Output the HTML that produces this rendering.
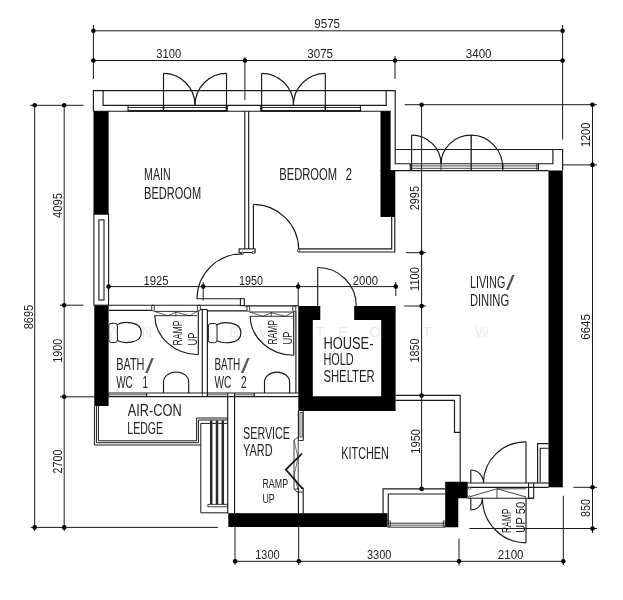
<!DOCTYPE html>
<html><head><meta charset="utf-8"><title>Floor plan</title>
<style>
html,body{margin:0;padding:0;background:#fff;}
svg{display:block;font-family:"Liberation Sans",sans-serif;will-change:transform;}
</style></head><body>
<svg width="623" height="600" viewBox="0 0 623 600" stroke-linecap="butt">
<rect width="623" height="600" fill="#fff"/>
<text x="114" y="336.5" font-size="15" text-anchor="middle" fill="#eaeaea">Λ</text>
<text x="147" y="336.5" font-size="15" text-anchor="middle" fill="#eaeaea">N</text>
<text x="234" y="336.5" font-size="15" text-anchor="middle" fill="#eaeaea">E</text>
<text x="266" y="336.5" font-size="15" text-anchor="middle" fill="#eaeaea">W</text>
<text x="320" y="336.5" font-size="15" text-anchor="middle" fill="#eaeaea">T</text>
<text x="343" y="336.5" font-size="15" text-anchor="middle" fill="#eaeaea">E</text>
<text x="375" y="336.5" font-size="15" text-anchor="middle" fill="#eaeaea">O</text>
<text x="427" y="336.5" font-size="15" text-anchor="middle" fill="#eaeaea">T</text>
<text x="482" y="336.5" font-size="15" text-anchor="middle" fill="#eaeaea">W</text>
<line x1="93.4" y1="30.8" x2="562.6" y2="30.8" stroke="#1a1a1a" stroke-width="1.0"/>
<line x1="93.4" y1="60.5" x2="562.6" y2="60.5" stroke="#1a1a1a" stroke-width="1.0"/>
<line x1="93.4" y1="25" x2="93.4" y2="79" stroke="#1a1a1a" stroke-width="1.0"/>
<line x1="244.9" y1="57" x2="244.9" y2="100" stroke="#1a1a1a" stroke-width="1.0"/>
<line x1="395" y1="56" x2="395" y2="79" stroke="#1a1a1a" stroke-width="1.0"/>
<line x1="562.6" y1="25" x2="562.6" y2="139.4" stroke="#1a1a1a" stroke-width="1.0"/>
<circle cx="93.4" cy="30.8" r="2.3" fill="#000"/>
<circle cx="562.6" cy="30.8" r="2.3" fill="#000"/>
<circle cx="93.4" cy="60.5" r="2.3" fill="#000"/>
<circle cx="244.9" cy="60.5" r="2.3" fill="#000"/>
<circle cx="395" cy="60.5" r="2.3" fill="#000"/>
<circle cx="562.6" cy="60.5" r="2.3" fill="#000"/>
<text x="314.3" y="27.7" font-size="13" word-spacing="0" textLength="25.7" lengthAdjust="spacingAndGlyphs" fill="#222">9575</text>
<text x="156.3" y="58.3" font-size="13" word-spacing="0" textLength="24.9" lengthAdjust="spacingAndGlyphs" fill="#222">3100</text>
<text x="307.3" y="58.3" font-size="13" word-spacing="0" textLength="25.7" lengthAdjust="spacingAndGlyphs" fill="#222">3075</text>
<text x="465.8" y="58.3" font-size="13" word-spacing="0" textLength="25.7" lengthAdjust="spacingAndGlyphs" fill="#222">3400</text>
<line x1="34.7" y1="105.3" x2="34.7" y2="531" stroke="#1a1a1a" stroke-width="1.0"/>
<line x1="64.2" y1="105.3" x2="64.2" y2="531" stroke="#1a1a1a" stroke-width="1.0"/>
<line x1="30" y1="105.3" x2="83.6" y2="105.3" stroke="#1a1a1a" stroke-width="1.0"/>
<line x1="60" y1="305.2" x2="83.5" y2="305.2" stroke="#1a1a1a" stroke-width="1.0"/>
<line x1="60" y1="396.8" x2="94.5" y2="396.8" stroke="#1a1a1a" stroke-width="1.0"/>
<line x1="30.8" y1="527.4" x2="218" y2="527.4" stroke="#1a1a1a" stroke-width="1.0"/>
<circle cx="34.7" cy="105.3" r="2.3" fill="#000"/>
<circle cx="64.2" cy="105.3" r="2.3" fill="#000"/>
<circle cx="64.2" cy="305.2" r="2.3" fill="#000"/>
<circle cx="64.2" cy="396.8" r="2.3" fill="#000"/>
<circle cx="34.7" cy="527.4" r="2.3" fill="#000"/>
<circle cx="64.2" cy="527.4" r="2.3" fill="#000"/>
<text transform="translate(61.6,218) rotate(-90)" font-size="13" textLength="25" lengthAdjust="spacingAndGlyphs" fill="#222">4095</text>
<text transform="translate(32.9,329.3) rotate(-90)" font-size="13" textLength="24.4" lengthAdjust="spacingAndGlyphs" fill="#222">8695</text>
<text transform="translate(62,362.7) rotate(-90)" font-size="13" textLength="24.1" lengthAdjust="spacingAndGlyphs" fill="#222">1900</text>
<text transform="translate(62,473.5) rotate(-90)" font-size="13" textLength="23.9" lengthAdjust="spacingAndGlyphs" fill="#222">2700</text>
<line x1="108.6" y1="286.6" x2="396.1" y2="286.6" stroke="#1a1a1a" stroke-width="1.0"/>
<line x1="203.2" y1="282" x2="203.2" y2="300.5" stroke="#1a1a1a" stroke-width="1.0"/>
<line x1="298.2" y1="282" x2="298.2" y2="306" stroke="#1a1a1a" stroke-width="1.0"/>
<line x1="395.8" y1="282" x2="395.8" y2="296" stroke="#1a1a1a" stroke-width="1.0"/>
<circle cx="108.6" cy="286.6" r="2.3" fill="#000"/>
<circle cx="203.2" cy="286.6" r="2.3" fill="#000"/>
<circle cx="298.2" cy="286.6" r="2.3" fill="#000"/>
<circle cx="395.8" cy="286.6" r="2.3" fill="#000"/>
<text x="143.4" y="284.8" font-size="13" word-spacing="0" textLength="25.1" lengthAdjust="spacingAndGlyphs" fill="#222">1925</text>
<text x="239.1" y="284.8" font-size="13" word-spacing="0" textLength="23.9" lengthAdjust="spacingAndGlyphs" fill="#222">1950</text>
<text x="352.8" y="284.8" font-size="13" word-spacing="0" textLength="25.2" lengthAdjust="spacingAndGlyphs" fill="#222">2000</text>
<line x1="421.6" y1="103.5" x2="421.6" y2="489" stroke="#1a1a1a" stroke-width="1.0"/>
<line x1="404.7" y1="104.7" x2="597" y2="104.7" stroke="#1a1a1a" stroke-width="1.0"/>
<line x1="405.9" y1="252.7" x2="426" y2="252.7" stroke="#1a1a1a" stroke-width="1.0"/>
<line x1="404.3" y1="306" x2="426" y2="306" stroke="#1a1a1a" stroke-width="1.0"/>
<circle cx="421.6" cy="104.7" r="2.3" fill="#000"/>
<circle cx="421.6" cy="252.7" r="2.3" fill="#000"/>
<circle cx="421.6" cy="306" r="2.3" fill="#000"/>
<circle cx="421.6" cy="395.5" r="2.3" fill="#000"/>
<circle cx="421.6" cy="488.9" r="2.3" fill="#000"/>
<text transform="translate(418.7,210.3) rotate(-90)" font-size="13" textLength="24.3" lengthAdjust="spacingAndGlyphs" fill="#222">2995</text>
<text transform="translate(418.5,291) rotate(-90)" font-size="13" textLength="24" lengthAdjust="spacingAndGlyphs" fill="#222">1100</text>
<text transform="translate(418.5,362.5) rotate(-90)" font-size="13" textLength="23.9" lengthAdjust="spacingAndGlyphs" fill="#222">1850</text>
<text transform="translate(419.5,453.7) rotate(-90)" font-size="13" textLength="24.7" lengthAdjust="spacingAndGlyphs" fill="#222">1950</text>
<line x1="592.5" y1="102.5" x2="592.5" y2="533" stroke="#1a1a1a" stroke-width="1.0"/>
<line x1="562.6" y1="164.9" x2="597" y2="164.9" stroke="#1a1a1a" stroke-width="1.0"/>
<line x1="573.5" y1="487.3" x2="597" y2="487.3" stroke="#1a1a1a" stroke-width="1.0"/>
<line x1="469.5" y1="528.5" x2="597" y2="528.5" stroke="#1a1a1a" stroke-width="1.0"/>
<circle cx="592.5" cy="104.7" r="2.3" fill="#000"/>
<circle cx="592.5" cy="164.9" r="2.3" fill="#000"/>
<circle cx="592.5" cy="487.3" r="2.3" fill="#000"/>
<circle cx="592.5" cy="528.5" r="2.3" fill="#000"/>
<text transform="translate(590,147.1) rotate(-90)" font-size="13" textLength="24.4" lengthAdjust="spacingAndGlyphs" fill="#222">1200</text>
<text transform="translate(589.7,339.7) rotate(-90)" font-size="13" textLength="25.5" lengthAdjust="spacingAndGlyphs" fill="#222">6645</text>
<text transform="translate(590,517.1) rotate(-90)" font-size="13" textLength="18.0" lengthAdjust="spacingAndGlyphs" fill="#222">850</text>
<line x1="235.2" y1="561.3" x2="563.3" y2="561.3" stroke="#1a1a1a" stroke-width="1.0"/>
<line x1="235" y1="527" x2="235" y2="565" stroke="#1a1a1a" stroke-width="1.0"/>
<line x1="298.7" y1="527" x2="298.7" y2="565" stroke="#1a1a1a" stroke-width="1.0"/>
<line x1="459" y1="538.5" x2="459" y2="565.5" stroke="#1a1a1a" stroke-width="1.0"/>
<line x1="563.3" y1="495.8" x2="563.3" y2="565" stroke="#1a1a1a" stroke-width="1.0"/>
<circle cx="235.2" cy="561.3" r="2.3" fill="#000"/>
<circle cx="298.8" cy="561.3" r="2.3" fill="#000"/>
<circle cx="459" cy="561.3" r="2.3" fill="#000"/>
<circle cx="563.3" cy="561.3" r="2.3" fill="#000"/>
<text x="255.2" y="559" font-size="13" word-spacing="0" textLength="24.4" lengthAdjust="spacingAndGlyphs" fill="#222">1300</text>
<text x="367" y="559" font-size="13" word-spacing="0" textLength="24.4" lengthAdjust="spacingAndGlyphs" fill="#222">3300</text>
<text x="497.8" y="559.2" font-size="13" word-spacing="0" textLength="25.7" lengthAdjust="spacingAndGlyphs" fill="#222">2100</text>
<rect x="93.5" y="111" width="15.1" height="103.2" fill="#000" stroke="none" stroke-width="1"/>
<rect x="94.3" y="305.2" width="14.3" height="100.8" fill="#000" stroke="none" stroke-width="1"/>
<rect x="380.5" y="111" width="10.1" height="60" fill="#000" stroke="none" stroke-width="1"/>
<rect x="380.5" y="170.2" width="14.8" height="46.8" fill="#000" stroke="none" stroke-width="1"/>
<rect x="548.5" y="170.5" width="14.3" height="316.8" fill="#000" stroke="none" stroke-width="1"/>
<path d="M298.3 306 H320.3 V320 H312.8 V396.2 H381.2 V320 H354.2 V306 H395.6 V411.1 H298.3 Z" fill="#000" stroke="none" stroke-width="0"/>
<rect x="228.3" y="513.2" width="159.2" height="13.8" fill="#000" stroke="none" stroke-width="1"/>
<path d="M445.2 481.8 H467.7 V498.2 H458.3 V527.3 H445.2 Z" fill="#000" stroke="none" stroke-width="0"/>
<path d="M93.4 111.2 V90.6 H395.2 V163.7 H552.9 V149.5" fill="none" stroke="#1a1a1a" stroke-width="1.15"/>
<path d="M103.1 90.6 V105.3 H386.2 V90.6" fill="none" stroke="#1a1a1a" stroke-width="1.15"/>
<line x1="93.4" y1="111.2" x2="390.8" y2="111.2" stroke="#1a1a1a" stroke-width="1.15"/>
<line x1="128" y1="107.5" x2="227.2" y2="107.5" stroke="#1a1a1a" stroke-width="0.9"/>
<line x1="128" y1="110.8" x2="227.2" y2="110.8" stroke="#1a1a1a" stroke-width="1.7"/>
<line x1="128" y1="105.3" x2="128" y2="111.2" stroke="#1a1a1a" stroke-width="1.15"/>
<line x1="227.2" y1="105.3" x2="227.2" y2="111.2" stroke="#1a1a1a" stroke-width="1.15"/>
<line x1="260.8" y1="107.5" x2="360.5" y2="107.5" stroke="#1a1a1a" stroke-width="0.9"/>
<line x1="260.8" y1="110.8" x2="360.5" y2="110.8" stroke="#1a1a1a" stroke-width="1.7"/>
<line x1="260.8" y1="105.3" x2="260.8" y2="111.2" stroke="#1a1a1a" stroke-width="1.15"/>
<line x1="360.5" y1="105.3" x2="360.5" y2="111.2" stroke="#1a1a1a" stroke-width="1.15"/>
<line x1="163.5" y1="105.3" x2="163.5" y2="111.2" stroke="#1a1a1a" stroke-width="1.6"/>
<line x1="226.5" y1="105.3" x2="226.5" y2="111.2" stroke="#1a1a1a" stroke-width="1.6"/>
<line x1="261.6" y1="105.3" x2="261.6" y2="111.2" stroke="#1a1a1a" stroke-width="1.6"/>
<line x1="325.3" y1="105.3" x2="325.3" y2="111.2" stroke="#1a1a1a" stroke-width="1.6"/>
<line x1="163.5" y1="73.4" x2="163.5" y2="105.3" stroke="#1a1a1a" stroke-width="1.15"/>
<path d="M163.5 73.4 A31.5 31.89999999999999 0 0 1 195.0 105.3" fill="none" stroke="#1a1a1a" stroke-width="1.15"/>
<line x1="226.5" y1="73.4" x2="226.5" y2="105.3" stroke="#1a1a1a" stroke-width="1.15"/>
<path d="M226.5 73.4 A31.5 31.89999999999999 0 0 0 195.0 105.3" fill="none" stroke="#1a1a1a" stroke-width="1.15"/>
<line x1="261.6" y1="73.4" x2="261.6" y2="105.3" stroke="#1a1a1a" stroke-width="1.15"/>
<path d="M261.6 73.4 A32 31.89999999999999 0 0 1 293.6 105.3" fill="none" stroke="#1a1a1a" stroke-width="1.15"/>
<line x1="325.3" y1="73.4" x2="325.3" y2="105.3" stroke="#1a1a1a" stroke-width="1.15"/>
<path d="M325.3 73.4 A32 31.89999999999999 0 0 0 293.3 105.3" fill="none" stroke="#1a1a1a" stroke-width="1.15"/>
<path d="M395.2 149.5 H562.6 V170.5" fill="none" stroke="#1a1a1a" stroke-width="1.15"/>
<line x1="390.5" y1="170.6" x2="548.5" y2="170.6" stroke="#1a1a1a" stroke-width="1.15"/>
<line x1="410.3" y1="165.9" x2="538.5" y2="165.9" stroke="#1a1a1a" stroke-width="0.8"/>
<line x1="410.3" y1="168.3" x2="538.5" y2="168.3" stroke="#1a1a1a" stroke-width="0.8"/>
<line x1="410.3" y1="163.7" x2="410.3" y2="170.6" stroke="#1a1a1a" stroke-width="1.15"/>
<line x1="538.5" y1="163.7" x2="538.5" y2="170.6" stroke="#1a1a1a" stroke-width="1.15"/>
<line x1="536.8" y1="163.7" x2="536.8" y2="170.6" stroke="#1a1a1a" stroke-width="0.8"/>
<line x1="411.6" y1="135.1" x2="411.6" y2="170" stroke="#1a1a1a" stroke-width="1.15"/>
<path d="M411.6 135.1 A29.5 29 0 0 1 441 164" fill="none" stroke="#1a1a1a" stroke-width="1.15"/>
<line x1="471.2" y1="135.1" x2="471.2" y2="170" stroke="#1a1a1a" stroke-width="1.3"/>
<path d="M471.2 135.1 A30.2 29 0 0 0 441 164" fill="none" stroke="#1a1a1a" stroke-width="1.15"/>
<path d="M471.2 135.1 A31.5 33 0 0 1 502.8 169" fill="none" stroke="#1a1a1a" stroke-width="1.15"/>
<line x1="441" y1="162" x2="441" y2="170" stroke="#1a1a1a" stroke-width="0.8"/>
<line x1="502.8" y1="164" x2="502.8" y2="170" stroke="#1a1a1a" stroke-width="1.2"/>
<line x1="244.8" y1="111.2" x2="244.8" y2="249" stroke="#1a1a1a" stroke-width="1.15"/>
<line x1="248.7" y1="111.2" x2="248.7" y2="249" stroke="#1a1a1a" stroke-width="1.15"/>
<rect x="239.1" y="248.9" width="16.0" height="3.6" rx="0" fill="none" stroke="#1a1a1a" stroke-width="1.1"/>
<circle cx="242.3" cy="253.3" r="1.2" fill="#fff" stroke="#1a1a1a" stroke-width="0.8"/>
<circle cx="253.4" cy="252.6" r="1.2" fill="#fff" stroke="#1a1a1a" stroke-width="0.8"/>
<line x1="253.4" y1="204.4" x2="253.4" y2="249" stroke="#1a1a1a" stroke-width="1.15"/>
<path d="M253.4 204.4 A45.5 45.5 0 0 1 298.7 249.5" fill="none" stroke="#1a1a1a" stroke-width="1.15"/>
<path d="M298.5 248.9 H391.7 V217" fill="none" stroke="#1a1a1a" stroke-width="1.15"/>
<path d="M298.5 252 H394.8 V217" fill="none" stroke="#1a1a1a" stroke-width="1.15"/>
<line x1="298.5" y1="248.9" x2="298.5" y2="252" stroke="#1a1a1a" stroke-width="1.15"/>
<circle cx="298.6" cy="250.5" r="1.2" fill="#fff" stroke="#1a1a1a" stroke-width="0.8"/>
<path d="M242.3 253.8 A45.3 45.3 0 0 0 197 298.7 H240.4" fill="none" stroke="#1a1a1a" stroke-width="1.15"/>
<rect x="240.4" y="298.7" width="3.9" height="6.9" rx="0" fill="none" stroke="#1a1a1a" stroke-width="1.1"/>
<rect x="93.9" y="214.2" width="14.7" height="91.0" rx="0" fill="none" stroke="#1a1a1a" stroke-width="1.1"/>
<rect x="98.9" y="219.9" width="5.1" height="80.1" rx="0" fill="none" stroke="#1a1a1a" stroke-width="1.1"/>
<line x1="108.6" y1="305.2" x2="240.4" y2="305.2" stroke="#1a1a1a" stroke-width="1.15"/>
<line x1="108.6" y1="310.3" x2="151.7" y2="310.3" stroke="#1a1a1a" stroke-width="1.15"/>
<line x1="244.3" y1="305.8" x2="298.3" y2="305.8" stroke="#1a1a1a" stroke-width="1.15"/>
<line x1="207.4" y1="310.8" x2="247" y2="310.8" stroke="#1a1a1a" stroke-width="1.15"/>
<rect x="151.7" y="305.2" width="2.6" height="5.6" rx="1" fill="none" stroke="#1a1a1a" stroke-width="0.9"/>
<rect x="197.4" y="305.2" width="2.9" height="5.6" rx="1" fill="none" stroke="#1a1a1a" stroke-width="0.9"/>
<line x1="154.3" y1="311.4" x2="197.4" y2="311.4" stroke="#1a1a1a" stroke-width="0.9"/>
<line x1="154.3" y1="315.7" x2="197.4" y2="315.7" stroke="#1a1a1a" stroke-width="0.9"/>
<path d="M154.3 311.4 L167.85000000000002 315.7 M167.85000000000002 315.7 L175.85000000000002 312.2 L189.85000000000002 315.7 L197.4 311.4" fill="none" stroke="#1a1a1a" stroke-width="0.7"/>
<line x1="175.85000000000002" y1="311.4" x2="175.85000000000002" y2="315.7" stroke="#1a1a1a" stroke-width="0.8"/>
<line x1="198.3" y1="310.8" x2="198.3" y2="354.7" stroke="#1a1a1a" stroke-width="1.15"/>
<path d="M154.8 315.7 A44.0 39.5 0 0 0 198.3 354.7" fill="none" stroke="#1a1a1a" stroke-width="1.15"/>
<rect x="247" y="305.8" width="2.7" height="5.6" rx="1" fill="none" stroke="#1a1a1a" stroke-width="0.9"/>
<rect x="292.8" y="305.8" width="3.0" height="5.6" rx="1" fill="none" stroke="#1a1a1a" stroke-width="0.9"/>
<line x1="249.7" y1="312.0" x2="292.8" y2="312.0" stroke="#1a1a1a" stroke-width="0.9"/>
<line x1="249.7" y1="316.3" x2="292.8" y2="316.3" stroke="#1a1a1a" stroke-width="0.9"/>
<path d="M249.7 312.0 L263.25 316.3 M263.25 316.3 L271.25 312.8 L285.25 316.3 L292.8 312.0" fill="none" stroke="#1a1a1a" stroke-width="0.7"/>
<line x1="271.25" y1="312.0" x2="271.25" y2="316.3" stroke="#1a1a1a" stroke-width="0.8"/>
<line x1="293.7" y1="311.40000000000003" x2="293.7" y2="355.3" stroke="#1a1a1a" stroke-width="1.15"/>
<path d="M250.2 316.3 A44.0 39.5 0 0 0 293.7 355.3" fill="none" stroke="#1a1a1a" stroke-width="1.15"/>
<line x1="202.3" y1="309.5" x2="202.3" y2="393" stroke="#1a1a1a" stroke-width="1.15"/>
<line x1="207.4" y1="309.5" x2="207.4" y2="393" stroke="#1a1a1a" stroke-width="1.15"/>
<line x1="200.3" y1="309.5" x2="207.4" y2="309.5" stroke="#1a1a1a" stroke-width="1.15"/>
<line x1="295.9" y1="311" x2="295.9" y2="393" stroke="#1a1a1a" stroke-width="1.15"/>
<line x1="108.6" y1="393" x2="298.3" y2="393" stroke="#1a1a1a" stroke-width="1.15"/>
<line x1="108.6" y1="396.6" x2="298.3" y2="396.6" stroke="#1a1a1a" stroke-width="1.15"/>
<line x1="108.6" y1="394.8" x2="146.7" y2="394.8" stroke="#1a1a1a" stroke-width="0.7"/>
<line x1="108.6" y1="393" x2="108.6" y2="396.6" stroke="#1a1a1a" stroke-width="1.15"/>
<line x1="146.7" y1="393" x2="146.7" y2="396.6" stroke="#1a1a1a" stroke-width="1.15"/>
<line x1="207.4" y1="394.8" x2="227.7" y2="394.8" stroke="#1a1a1a" stroke-width="0.7"/>
<line x1="207.4" y1="393" x2="207.4" y2="396.6" stroke="#1a1a1a" stroke-width="1.15"/>
<line x1="227.7" y1="393" x2="227.7" y2="396.6" stroke="#1a1a1a" stroke-width="1.15"/>
<line x1="234.6" y1="394.8" x2="254.2" y2="394.8" stroke="#1a1a1a" stroke-width="0.7"/>
<line x1="234.6" y1="393" x2="234.6" y2="396.6" stroke="#1a1a1a" stroke-width="1.15"/>
<line x1="254.2" y1="393" x2="254.2" y2="396.6" stroke="#1a1a1a" stroke-width="1.15"/>
<line x1="202.3" y1="393" x2="202.3" y2="396.6" stroke="#1a1a1a" stroke-width="0.8"/>
<line x1="207.4" y1="393" x2="207.4" y2="396.6" stroke="#1a1a1a" stroke-width="0.8"/>
<rect x="108.8" y="323.3" width="8.6" height="19.2" rx="2.5" fill="none" stroke="#1a1a1a" stroke-width="1"/>
<path d="M117.39999999999999 324.5 C122.8 321.5 141.3 320.5 141.3 332.5 C141.3 344.5 122.8 343.5 117.39999999999999 340.5" fill="none" stroke="#1a1a1a" stroke-width="1.15"/>
<rect x="208.4" y="323.5" width="8.6" height="19.2" rx="2.5" fill="none" stroke="#1a1a1a" stroke-width="1"/>
<path d="M217.0 324.7 C222.4 321.7 240.9 320.7 240.9 332.7 C240.9 344.7 222.4 343.7 217.0 340.7" fill="none" stroke="#1a1a1a" stroke-width="1.15"/>
<path d="M163.5 393 V382.05 A12.599999999999994 10.079999999999997 0 0 1 188.7 382.05 V393" fill="none" stroke="#1a1a1a" stroke-width="1.15"/>
<path d="M264.5 393 V382.1125 A12.550000000000011 10.04000000000001 0 0 1 289.6 382.1125 V393" fill="none" stroke="#1a1a1a" stroke-width="1.15"/>
<path d="M98.4 406 V440.8 H196.6 V418 H228" fill="none" stroke="#1a1a1a" stroke-width="1.0"/>
<path d="M96.4 406 V442.7 H198.4 V420 H228" fill="none" stroke="#1a1a1a" stroke-width="1.0"/>
<path d="M94.4 406 V445 H200.8" fill="none" stroke="#1a1a1a" stroke-width="1.0"/>
<path d="M228 423.4 H200.8 V512.8 H228.3" fill="none" stroke="#1a1a1a" stroke-width="1.0"/>
<line x1="211.2" y1="420.4" x2="211.2" y2="504.3" stroke="#2a2a2a" stroke-width="2.5"/>
<line x1="217.0" y1="420.4" x2="217.0" y2="504.3" stroke="#2a2a2a" stroke-width="2.5"/>
<line x1="222.8" y1="420.4" x2="222.8" y2="504.3" stroke="#2a2a2a" stroke-width="2.5"/>
<rect x="207.9" y="504.3" width="19.7" height="2.5" rx="0" fill="none" stroke="#1a1a1a" stroke-width="0.8"/>
<line x1="227.7" y1="396.6" x2="227.7" y2="513.3" stroke="#1a1a1a" stroke-width="1.15"/>
<line x1="234.6" y1="396.6" x2="234.6" y2="513.3" stroke="#1a1a1a" stroke-width="1.15"/>
<line x1="298.4" y1="411" x2="298.4" y2="440" stroke="#1a1a1a" stroke-width="1.15"/>
<line x1="303.2" y1="411" x2="303.2" y2="440.5" stroke="#1a1a1a" stroke-width="1.15"/>
<rect x="300" y="412.4" width="2.1" height="24.6" rx="0" fill="none" stroke="#1a1a1a" stroke-width="0.7"/>
<line x1="298.4" y1="488" x2="298.4" y2="513.3" stroke="#1a1a1a" stroke-width="1.15"/>
<line x1="303.2" y1="488" x2="303.2" y2="513.3" stroke="#1a1a1a" stroke-width="1.15"/>
<path d="M298.4 437 L294 440 V489 L298.4 489" fill="none" stroke="#1a1a1a" stroke-width="0.8"/>
<line x1="298.2" y1="440" x2="298.2" y2="489" stroke="#1a1a1a" stroke-width="0.8"/>
<path d="M294 440 L298 458 M298 458 L294 476 M294 476 L298 489" fill="none" stroke="#1a1a1a" stroke-width="0.6"/>
<path d="M302 453.6 L285.8 469.6 L302 488 H303.2" fill="none" stroke="#1a1a1a" stroke-width="1.8"/>
<path d="M298.4 440.5 H303.2 M294 489 L297 492 H303" fill="none" stroke="#1a1a1a" stroke-width="0.9"/>
<path d="M395.6 395.3 H460.2 V482" fill="none" stroke="#1a1a1a" stroke-width="1.15"/>
<path d="M395.6 400.4 H454.5 V432.4 H460.2" fill="none" stroke="#1a1a1a" stroke-width="1.15"/>
<path d="M445.2 488.9 H383.1 V513.3" fill="none" stroke="#1a1a1a" stroke-width="1.15"/>
<path d="M445.2 494 H388.3 V525" fill="none" stroke="#1a1a1a" stroke-width="1.15"/>
<line x1="388.3" y1="523.2" x2="445.2" y2="523.2" stroke="#1a1a1a" stroke-width="0.9"/>
<line x1="388.3" y1="525.2" x2="445.2" y2="525.2" stroke="#1a1a1a" stroke-width="0.7"/>
<line x1="387.5" y1="527.2" x2="445.2" y2="527.2" stroke="#1a1a1a" stroke-width="0.9"/>
<rect x="388.3" y="521" width="2.0" height="5.5" rx="0" fill="none" stroke="#1a1a1a" stroke-width="0.7"/>
<rect x="443.2" y="521" width="2.0" height="5.5" rx="0" fill="none" stroke="#1a1a1a" stroke-width="0.7"/>
<line x1="467.7" y1="483" x2="528.6" y2="483" stroke="#1a1a1a" stroke-width="1.15"/>
<line x1="467.7" y1="487.3" x2="548.5" y2="487.3" stroke="#1a1a1a" stroke-width="1.15"/>
<line x1="467.7" y1="498.2" x2="533.7" y2="498.2" stroke="#1a1a1a" stroke-width="1.15"/>
<line x1="533.7" y1="483" x2="548.5" y2="483" stroke="#1a1a1a" stroke-width="1.15"/>
<rect x="528.6" y="483" width="5.1" height="15.2" rx="0" fill="none" stroke="#1a1a1a" stroke-width="1.1"/>
<line x1="526" y1="441.8" x2="526" y2="483" stroke="#1a1a1a" stroke-width="1.15"/>
<path d="M526 441.8 A42.5 41.2 0 0 0 483.5 483" fill="none" stroke="#1a1a1a" stroke-width="1.15"/>
<line x1="470.8" y1="470" x2="470.8" y2="483" stroke="#1a1a1a" stroke-width="1.15"/>
<path d="M470.8 470 A12.7 13 0 0 1 483.5 483" fill="none" stroke="#1a1a1a" stroke-width="1.15"/>
<line x1="526" y1="498.2" x2="526" y2="542.8" stroke="#1a1a1a" stroke-width="1.15"/>
<path d="M526 542.8 A43.6 44.5 0 0 1 482.4 498.2" fill="none" stroke="#1a1a1a" stroke-width="1.15"/>
<line x1="470.8" y1="498.2" x2="470.8" y2="510" stroke="#1a1a1a" stroke-width="1.15"/>
<path d="M470.8 510 A11.6 11.8 0 0 0 482.4 498.2" fill="none" stroke="#1a1a1a" stroke-width="1.15"/>
<path d="M469 497 L497 488.8 V498.2 M497 488.8 L526 497" fill="none" stroke="#1a1a1a" stroke-width="0.8"/>
<line x1="497" y1="488.8" x2="526" y2="488.8" stroke="#1a1a1a" stroke-width="0.8"/>
<circle cx="469.6" cy="488.3" r="1.1" fill="#fff" stroke="#1a1a1a" stroke-width="0.7"/>
<circle cx="469.6" cy="497" r="1.1" fill="#fff" stroke="#1a1a1a" stroke-width="0.7"/>
<path d="M548.5 443.6 H537.6 V483" fill="none" stroke="#1a1a1a" stroke-width="1.15"/>
<path d="M548.5 448.2 H540.2 V482" fill="none" stroke="#1a1a1a" stroke-width="1.15"/>
<line x1="317.7" y1="267.5" x2="317.7" y2="306" stroke="#1a1a1a" stroke-width="1.15"/>
<path d="M317.7 267.5 A38.6 38.5 0 0 1 356.3 306" fill="none" stroke="#1a1a1a" stroke-width="1.15"/>
<text x="144.1" y="180.3" font-size="16" word-spacing="0" textLength="26.5" lengthAdjust="spacingAndGlyphs" fill="#222">MAIN</text>
<text x="144.1" y="199.3" font-size="16" word-spacing="0" textLength="57.0" lengthAdjust="spacingAndGlyphs" fill="#222">BEDROOM</text>
<text x="279.3" y="179.5" font-size="16" word-spacing="8" textLength="72.7" lengthAdjust="spacingAndGlyphs" fill="#222">BEDROOM 2</text>
<text x="469.9" y="288.2" font-size="16" word-spacing="0" textLength="35.4" lengthAdjust="spacingAndGlyphs" fill="#222">LIVING</text>
<text x="506.0" y="289.8" font-size="21" word-spacing="0" textLength="8.6" lengthAdjust="spacingAndGlyphs" fill="#555">/</text>
<text x="469.9" y="306" font-size="16" word-spacing="0" textLength="39.2" lengthAdjust="spacingAndGlyphs" fill="#222">DINING</text>
<text x="116.2" y="369.8" font-size="16" word-spacing="0" textLength="28.3" lengthAdjust="spacingAndGlyphs" fill="#222">BATH</text>
<text x="145.2" y="372.6" font-size="21" word-spacing="0" textLength="8.6" lengthAdjust="spacingAndGlyphs" fill="#555">/</text>
<text x="116.2" y="387.6" font-size="16" word-spacing="11" textLength="31.8" lengthAdjust="spacingAndGlyphs" fill="#222">WC 1</text>
<text x="214.4" y="370" font-size="16" word-spacing="0" textLength="25.8" lengthAdjust="spacingAndGlyphs" fill="#222">BATH</text>
<text x="241.0" y="372.6" font-size="21" word-spacing="0" textLength="8.6" lengthAdjust="spacingAndGlyphs" fill="#555">/</text>
<text x="214.4" y="388" font-size="16" word-spacing="11" textLength="32.1" lengthAdjust="spacingAndGlyphs" fill="#222">WC 2</text>
<text x="323.4" y="348.8" font-size="16" word-spacing="0" textLength="50.1" lengthAdjust="spacingAndGlyphs" fill="#222">HOUSE-</text>
<text x="323.4" y="365" font-size="16" word-spacing="0" textLength="30.3" lengthAdjust="spacingAndGlyphs" fill="#222">HOLD</text>
<text x="323.4" y="381.6" font-size="16" word-spacing="0" textLength="51.3" lengthAdjust="spacingAndGlyphs" fill="#222">SHELTER</text>
<text x="127.7" y="416.2" font-size="16" word-spacing="0" textLength="54.0" lengthAdjust="spacingAndGlyphs" fill="#222">AIR-CON</text>
<text x="127.3" y="434.2" font-size="16" word-spacing="0" textLength="35.6" lengthAdjust="spacingAndGlyphs" fill="#222">LEDGE</text>
<text x="243.1" y="438.8" font-size="16" word-spacing="0" textLength="46.8" lengthAdjust="spacingAndGlyphs" fill="#222">SERVICE</text>
<text x="243.1" y="455.5" font-size="16" word-spacing="0" textLength="29.5" lengthAdjust="spacingAndGlyphs" fill="#222">YARD</text>
<text x="341.3" y="458.8" font-size="16" word-spacing="0" textLength="47.5" lengthAdjust="spacingAndGlyphs" fill="#222">KITCHEN</text>
<text x="262.4" y="488.1" font-size="12.5" word-spacing="0" textLength="25.7" lengthAdjust="spacingAndGlyphs" fill="#222">RAMP</text>
<text x="262.4" y="502.5" font-size="12.5" word-spacing="0" textLength="12.3" lengthAdjust="spacingAndGlyphs" fill="#222">UP</text>
<text transform="translate(182.2,345.5) rotate(-90)" font-size="12.5" textLength="24.9" lengthAdjust="spacingAndGlyphs" fill="#222">RAMP</text>
<text transform="translate(197,345.5) rotate(-90)" font-size="12.5" textLength="12.9" lengthAdjust="spacingAndGlyphs" fill="#222">UP</text>
<text transform="translate(277.3,344.5) rotate(-90)" font-size="12.5" textLength="24.5" lengthAdjust="spacingAndGlyphs" fill="#222">RAMP</text>
<text transform="translate(292.2,344.5) rotate(-90)" font-size="12.5" textLength="12.9" lengthAdjust="spacingAndGlyphs" fill="#222">UP</text>
<text transform="translate(510.6,533) rotate(-90)" font-size="12.5" textLength="24.4" lengthAdjust="spacingAndGlyphs" fill="#222">RAMP</text>
<text transform="translate(524.7,533) rotate(-90)" font-size="12.5" textLength="31.3" lengthAdjust="spacingAndGlyphs" fill="#222">UP 50</text>
</svg>
</body></html>
